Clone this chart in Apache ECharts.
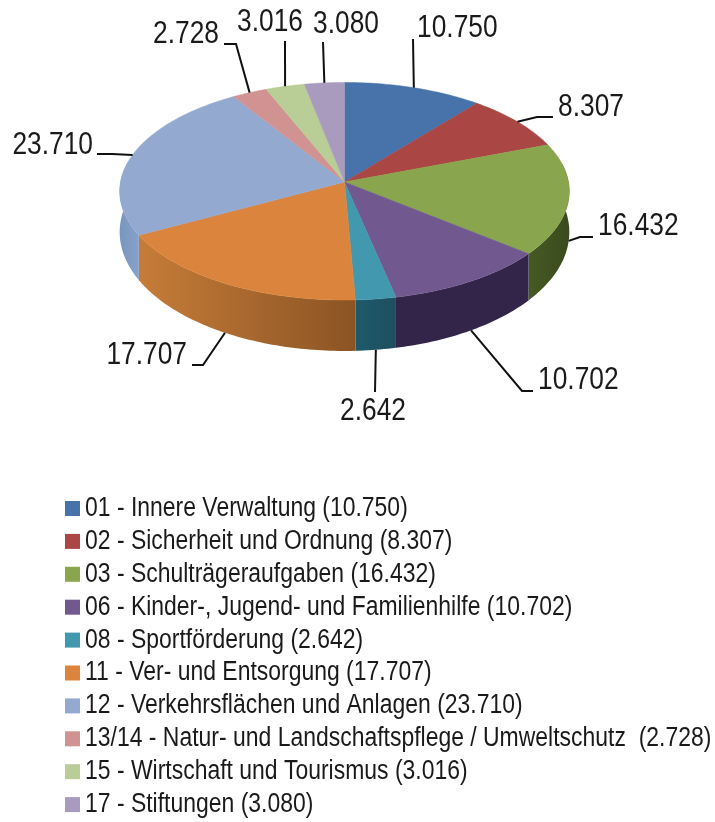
<!DOCTYPE html>
<html>
<head>
<meta charset="utf-8">
<style>
  html, body { margin: 0; padding: 0; background: #fff; }
  #main { width: 715px; height: 822px; }
</style>
</head>
<body>
<div id="main"></div>
<script src="https://cdn.jsdelivr.net/npm/echarts@6/dist/echarts.min.js"></script>
<script>
  const categories = [
    '01 - Innere Verwaltung',
    '02 - Sicherheit und Ordnung',
    '03 - Schulträgeraufgaben',
    '06 - Kinder-, Jugend- und Familienhilfe',
    '08 - Sportförderung',
    '11 - Ver- und Entsorgung',
    '12 - Verkehrsflächen und Anlagen',
    '13/14 - Natur- und Landschaftspflege / Umweltschutz ',
    '15 - Wirtschaft und Tourismus',
    '17 - Stiftungen'
  ]
  const values = [10750, 8307, 16432, 10702, 2642, 17707, 23710, 2728, 3016, 3080]
  const topColors = ['#4773AA', '#AA4643', '#89A54E', '#71588F', '#4198AF', '#DB843D', '#93A9CF', '#D19392', '#B9CD96', '#A99BBD']
  const sideColors = [
    ['#34557E', '#34557E'], ['#7E3432', '#7E3432'], ['#465A24', '#3A4A1D'], ['#33254A', '#33254A'], ['#1E5A6B', '#1E4F60'],
    ['#C67C38', '#8B5424'], ['#7A96BE', '#86A2CA'], ['#9A6C6B', '#9A6C6B'], ['#88986E', '#88986E'], ['#7D728C', '#7D728C']
  ]
  // Knick der Fuehrungslinie und Textposition je Wert
  const leaderBends = [
    [[413, 39]], [[537, 117], [553, 117]], [[580, 237], [593, 237]], [[522, 391], [533, 391]], [[375, 392]],
    [[203, 365], [192, 365]], [[112, 154], [97, 154]], [[236, 44], [224, 44]], [[285, 41]], [[323, 42]]
  ]
  const labelPositions = [
    [417, 28, 'left'], [558, 107, 'left'], [598, 226, 'left'], [538, 380, 'left'], [340, 411, 'left'],
    [187, 355, 'right'], [93, 145, 'right'], [219, 34, 'right'], [237, 22, 'left'], [313, 24, 'left']
  ]

  const fontFamily = '"Liberation Sans", Arial, sans-serif'
  const narrow = 0.85 // Schrift im Original ist schmal gelaufen
  const total = values.reduce((a, b) => a + b, 0)
  const formatValue = (v) => Math.floor(v / 1000) + '.' + String(v % 1000).padStart(3, '0')

  // Perspektive der Scheibe: obere und untere Ebene
  const apexX = 344.5
  const topPlane = { y: 182, rx: 224, ry: 108 }
  const bottomPlane = { y: 222, rx: 224, ry: 118 }
  const persp = 0.085
  function project(plane, deg) {
    const a = (deg * Math.PI) / 180
    const w = 1 + persp * Math.cos(a)
    return [apexX + (plane.rx * Math.sin(a)) / w, plane.y - (plane.ry * Math.cos(a)) / w]
  }
  function rim(plane, from, to) {
    const pts = []
    const n = Math.max(2, Math.ceil(Math.abs(to - from)))
    for (let i = 0; i <= n; i++) pts.push(project(plane, from + ((to - from) * i) / n))
    return pts
  }

  let cum = 0
  const slices = values.map((v) => {
    const start = (cum / total) * 360
    cum += v
    return { start, end: (cum / total) * 360 }
  })

  function narrowText(x, y, text, size, align) {
    return {
      type: 'text',
      x,
      y,
      scaleX: narrow,
      style: {
        x: 0,
        y: 0,
        text,
        fill: '#1a1a1a',
        font: size + 'px ' + fontFamily,
        textAlign: align,
        textVerticalAlign: 'middle'
      }
    }
  }

  function renderSlice(i) {
    const { start, end } = slices[i]
    const children = []
    const from = Math.max(start, 80)
    const to = Math.min(end, 280)
    if (to > from) {
      const points = rim(topPlane, from, to).concat(rim(bottomPlane, from, to).reverse())
      children.push({
        type: 'polygon',
        shape: { points },
        style: {
          fill: new echarts.graphic.LinearGradient(0, 0, 1, 0, [
            { offset: 0, color: sideColors[i][0] },
            { offset: 1, color: sideColors[i][1] }
          ])
        }
      })
    }
    children.push({
      type: 'polygon',
      shape: { points: [[apexX, topPlane.y]].concat(rim(topPlane, start, end)) },
      style: { fill: topColors[i], stroke: topColors[i], lineWidth: 0.5 }
    })
    const mid = (start + end) / 2
    const front = Math.cos((mid * Math.PI) / 180) < 0
    const anchor = project(front ? bottomPlane : topPlane, mid)
    children.push({
      type: 'polyline',
      shape: { points: [anchor].concat(leaderBends[i]) },
      style: { stroke: '#111', lineWidth: 2, fill: null }
    })
    const lp = labelPositions[i]
    children.push(narrowText(lp[0], lp[1], formatValue(values[i]), 31, lp[2]))
    // Legendenzeile
    const rowY = 508.5 + 32.9 * i
    children.push({
      type: 'rect',
      shape: { x: 65, y: rowY - 7.5, width: 15, height: 15 },
      style: { fill: topColors[i] }
    })
    children.push(narrowText(85, rowY, categories[i] + ' (' + formatValue(values[i]) + ')', 27, 'left'))
    return { type: 'group', children }
  }

  const chart = echarts.init(document.getElementById('main'), null, { renderer: 'canvas' })
  chart.setOption({
    animation: false,
    backgroundColor: '#fff',
    series: values.map((v, i) => ({
      type: 'custom',
      name: categories[i],
      coordinateSystem: 'none',
      silent: true,
      itemStyle: { color: topColors[i] },
      data: [v],
      renderItem: () => renderSlice(i)
    }))
  })
</script>
</body>
</html>
